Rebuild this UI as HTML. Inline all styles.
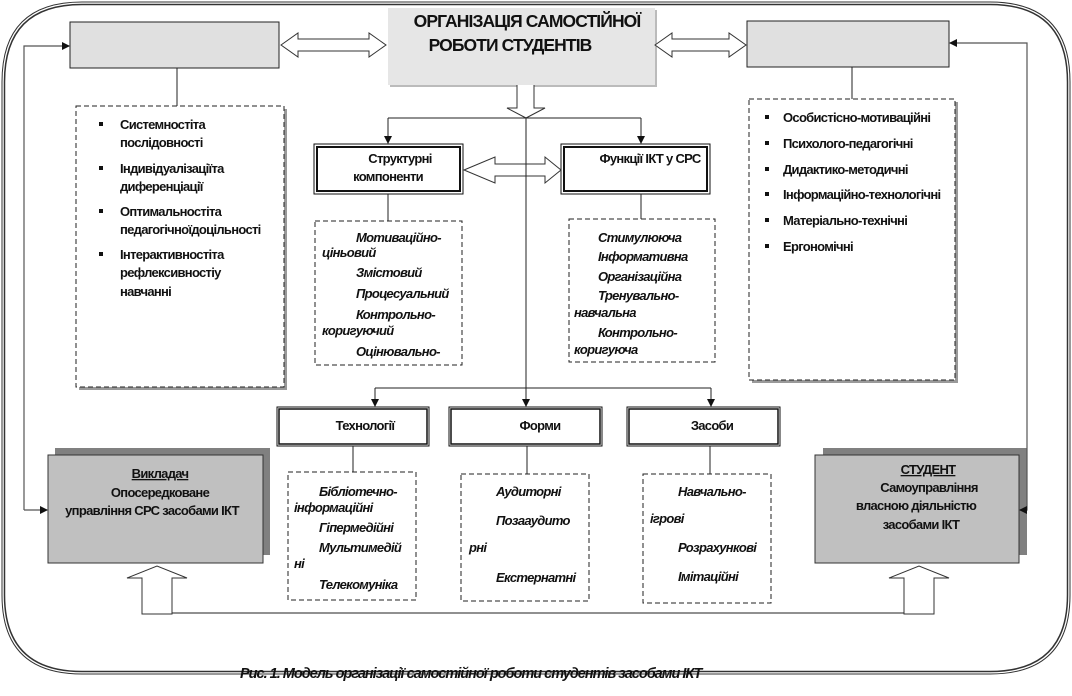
<!DOCTYPE html>
<html><head><meta charset="utf-8"><style>
html,body{margin:0;padding:0;background:#fff;}
svg{display:block}
text{font-family:"Liberation Sans","DejaVu Sans",sans-serif;fill:#111;}
.b{font-weight:bold;font-size:13px;letter-spacing:-0.7px}
.i{font-weight:bold;font-style:italic;font-size:13px;letter-spacing:-0.7px}
</style></head><body>
<svg width="1072" height="696" viewBox="0 0 1072 696" xmlns="http://www.w3.org/2000/svg">
<defs>
<marker id="ah" markerWidth="8" markerHeight="8" refX="7" refY="4" orient="auto" markerUnits="userSpaceOnUse"><path d="M0,0 L8,4 L0,8 Z" fill="#111"/></marker>
</defs>
<path d="M82,2 H990 Q1070,2 1070,82 V595 Q1070,674 990,674 H82 Q2,674 2,595 V82 Q2,2 82,2 Z" fill="none" stroke="#333" stroke-width="1"/>
<path d="M82,4.5 H990 Q1067.5,4.5 1067.5,82 V595 Q1067.5,671.5 990,671.5 H82 Q4.5,671.5 4.5,595 V82 Q4.5,4.5 82,4.5 Z" fill="none" stroke="#333" stroke-width="1.5"/>

<rect x="70" y="22" width="209" height="46" fill="#e0e0e0" stroke="#222" stroke-width="1"/>
<rect x="390" y="10" width="267" height="77" fill="#bbb"/>
<rect x="388" y="8" width="267" height="77" fill="#e6e6e6"/>
<text x="527" y="27" text-anchor="middle" style="font-weight:bold;font-size:17.5px;letter-spacing:-0.9px">ОРГАНІЗАЦІЯ САМОСТІЙНОЇ</text>
<text x="510" y="51" text-anchor="middle" style="font-weight:bold;font-size:17.5px;letter-spacing:-0.9px">РОБОТИ СТУДЕНТІВ</text>
<rect x="747" y="21" width="202" height="46" fill="#e0e0e0" stroke="#222" stroke-width="1"/>

<path d="M281,45 L298,33 V39 H369 V33 L386,45 L369,57 V51 H298 V57 Z" fill="#fff" stroke="#333"/>
<path d="M655,45 L672,33 V39 H729 V33 L746,45 L729,57 V51 H672 V57 Z" fill="#fff" stroke="#333"/>

<line x1="177" y1="68" x2="177" y2="106" stroke="#222"/>
<line x1="852" y1="67" x2="852" y2="99" stroke="#222"/>

<rect x="79" y="109" width="208" height="281" fill="#999"/>
<rect x="76" y="106" width="208" height="281" fill="#fff" stroke="#222" stroke-dasharray="5,3"/>
<g>
<rect x="99" y="122" width="4" height="4" fill="#111"/>
<text x="120" y="129" class="b">Системностіта</text>
<text x="120" y="147" class="b">послідовності</text>
<rect x="99" y="166" width="4" height="4" fill="#111"/>
<text x="120" y="173" class="b">Індивідуалізаціїта</text>
<text x="120" y="191" class="b">диференціації</text>
<rect x="99" y="209" width="4" height="4" fill="#111"/>
<text x="120" y="216" class="b">Оптимальностіта</text>
<text x="120" y="234" class="b">педагогічноїдоцільності</text>
<rect x="99" y="252" width="4" height="4" fill="#111"/>
<text x="120" y="259" class="b">Інтерактивностіта</text>
<text x="120" y="277" class="b">рефлексивностіу</text>
<text x="120" y="296" class="b">навчанні</text>
</g>

<rect x="752" y="102" width="206" height="281" fill="#999"/>
<rect x="749" y="99" width="206" height="281" fill="#fff" stroke="#222" stroke-dasharray="5,3"/>
<g>
<rect x="765" y="115" width="4" height="4" fill="#111"/><text x="783" y="122" class="b">Особистісно-мотиваційні</text>
<rect x="765" y="141" width="4" height="4" fill="#111"/><text x="783" y="148" class="b">Психолого-педагогічні</text>
<rect x="765" y="167" width="4" height="4" fill="#111"/><text x="783" y="174" class="b">Дидактико-методичні</text>
<rect x="765" y="192" width="4" height="4" fill="#111"/><text x="783" y="199" class="b">Інформаційно-технологічні</text>
<rect x="765" y="218" width="4" height="4" fill="#111"/><text x="783" y="225" class="b">Матеріально-технічні</text>
<rect x="765" y="244" width="4" height="4" fill="#111"/><text x="783" y="251" class="b">Ергономічні</text>
</g>

<path d="M517,85 V108 H507 L526,118 L545,108 H534 V85" fill="#fff" stroke="#333"/>
<line x1="526" y1="118" x2="526" y2="388" stroke="#222"/>
<path d="M388,118 H641" fill="none" stroke="#222"/>
<line x1="388" y1="118" x2="388" y2="143" stroke="#222" marker-end="url(#ah)"/>
<line x1="641" y1="118" x2="641" y2="143" stroke="#222" marker-end="url(#ah)"/>

<rect x="314" y="144" width="149" height="50" fill="#fff" stroke="#111" stroke-width="1"/>
<rect x="317" y="147" width="143" height="44" fill="none" stroke="#111" stroke-width="2"/>
<text x="400" y="163" text-anchor="middle" class="b">Структурні</text>
<text x="388" y="181" text-anchor="middle" class="b">компоненти</text>
<rect x="561" y="144" width="149" height="50" fill="#fff" stroke="#111" stroke-width="1"/>
<rect x="564" y="147" width="143" height="44" fill="none" stroke="#111" stroke-width="2"/>
<text x="650" y="163" text-anchor="middle" class="b">Функції ІКТ у СРС</text>

<path d="M464,170 L495,157 V164 H545 V157 L561,170 L545,183 V176 H495 V183 Z" fill="#fff" stroke="#333"/>
<line x1="526" y1="157" x2="526" y2="183" stroke="#222"/>

<line x1="388" y1="194" x2="388" y2="221" stroke="#222"/>
<line x1="641" y1="194" x2="641" y2="219" stroke="#222"/>

<rect x="315" y="221" width="147" height="144" fill="#fff" stroke="#222" stroke-dasharray="5,3"/>
<text x="356" y="242" class="i">Мотиваційно-</text>
<text x="322" y="257" class="i">ціньовий</text>
<text x="356" y="277" class="i">Змістовий</text>
<text x="356" y="298" class="i">Процесуальний</text>
<text x="356" y="319" class="i">Контрольно-</text>
<text x="322" y="335" class="i">коригуючий</text>
<text x="356" y="356" class="i">Оцінювально-</text>

<rect x="569" y="219" width="146" height="143" fill="#fff" stroke="#222" stroke-dasharray="5,3"/>
<text x="598" y="242" class="i">Стимулююча</text>
<text x="598" y="261" class="i">Інформативна</text>
<text x="598" y="281" class="i">Організаційна</text>
<text x="598" y="300" class="i">Тренувально-</text>
<text x="574" y="317" class="i">навчальна</text>
<text x="598" y="337" class="i">Контрольно-</text>
<text x="574" y="354" class="i">коригуюча</text>

<path d="M375,388 H711" fill="none" stroke="#222"/>
<line x1="375" y1="388" x2="375" y2="406" stroke="#222" marker-end="url(#ah)"/>
<line x1="526" y1="388" x2="526" y2="406" stroke="#222" marker-end="url(#ah)"/>
<line x1="711" y1="388" x2="711" y2="406" stroke="#222" marker-end="url(#ah)"/>

<rect x="277" y="407" width="152" height="39" fill="#fff" stroke="#111"/>
<rect x="279" y="409" width="148" height="35" fill="none" stroke="#111" stroke-width="1.5"/>
<text x="365" y="430" text-anchor="middle" class="b">Технології</text>
<rect x="449" y="407" width="153" height="39" fill="#fff" stroke="#111"/>
<rect x="451" y="409" width="149" height="35" fill="none" stroke="#111" stroke-width="1.5"/>
<text x="540" y="430" text-anchor="middle" class="b">Форми</text>
<rect x="627" y="407" width="153" height="39" fill="#fff" stroke="#111"/>
<rect x="629" y="409" width="149" height="35" fill="none" stroke="#111" stroke-width="1.5"/>
<text x="712" y="430" text-anchor="middle" class="b">Засоби</text>
<line x1="353" y1="446" x2="353" y2="472" stroke="#222"/>
<line x1="527" y1="446" x2="527" y2="474" stroke="#222"/>
<line x1="710" y1="446" x2="710" y2="474" stroke="#222"/>

<rect x="288" y="472" width="128" height="128" fill="#fff" stroke="#222" stroke-dasharray="5,3"/>
<text x="319" y="496" class="i">Бібліотечно-</text>
<text x="294" y="512" class="i">інформаційні</text>
<text x="319" y="532" class="i">Гіпермедійні</text>
<text x="319" y="552" class="i">Мультимедій</text>
<text x="294" y="568" class="i">ні</text>
<text x="319" y="589" class="i">Телекомуніка</text>

<rect x="461" y="474" width="128" height="127" fill="#fff" stroke="#222" stroke-dasharray="5,3"/>
<text x="496" y="496" class="i">Аудиторні</text>
<text x="496" y="525" class="i">Позааудито</text>
<text x="469" y="552" class="i">рні</text>
<text x="496" y="582" class="i">Екстернатні</text>

<rect x="643" y="474" width="128" height="129" fill="#fff" stroke="#222" stroke-dasharray="5,3"/>
<text x="678" y="496" class="i">Навчально-</text>
<text x="650" y="523" class="i">ігрові</text>
<text x="678" y="552" class="i">Розрахункові</text>
<text x="678" y="581" class="i">Імітаційні</text>

<rect x="55" y="448" width="215" height="107" fill="#808080"/>
<rect x="48" y="455" width="215" height="108" fill="#c0c0c0" stroke="#333"/>
<text x="160" y="478" text-anchor="middle" class="b" text-decoration="underline">Викладач</text>
<text x="160" y="497" text-anchor="middle" class="b">Опосередковане</text>
<text x="152" y="515" text-anchor="middle" class="b">управління СРС засобами ІКТ</text>
<rect x="823" y="448" width="204" height="107" fill="#808080"/>
<rect x="815" y="455" width="204" height="108" fill="#c0c0c0" stroke="#333"/>
<text x="928" y="474" text-anchor="middle" class="b" text-decoration="underline">СТУДЕНТ</text>
<text x="929" y="492" text-anchor="middle" class="b">Самоуправління</text>
<text x="916" y="510" text-anchor="middle" class="b">власною діяльністю</text>
<text x="921" y="529" text-anchor="middle" class="b">засобами  ІКТ</text>

<path d="M24,510 V46 H69" fill="none" stroke="#555" stroke-width="1.2" marker-end="url(#ah)"/>
<line x1="24" y1="510" x2="47" y2="510" stroke="#555" stroke-width="1.2" marker-end="url(#ah)"/>
<path d="M1019,510 H1027 V43 H950" fill="none" stroke="#555" stroke-width="1.2" marker-end="url(#ah)"/>
<line x1="1027" y1="510" x2="1020" y2="510" stroke="#555" stroke-width="1.2" marker-end="url(#ah)"/>

<path d="M142,614 V578 H127 L157,566 L187,578 H172 V614 Z" fill="#fff" stroke="#333"/>
<path d="M904,614 V578 H889 L919,566 L949,578 H934 V614 Z" fill="#fff" stroke="#333"/>
<line x1="172" y1="613" x2="904" y2="613" stroke="#222"/>

<text x="240" y="678" style="font-weight:bold;font-style:italic;font-size:14.5px;letter-spacing:-1px">Рис. 1. Модель організації самостійної роботи студентів засобами ІКТ</text>
</svg>
</body></html>
